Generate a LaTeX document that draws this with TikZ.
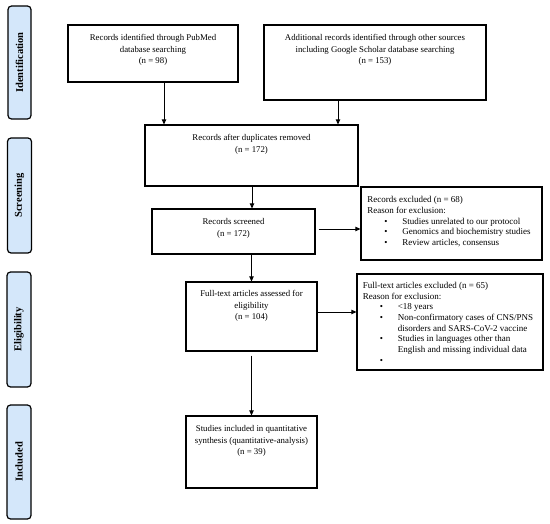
\documentclass[tikz,border=0pt]{standalone}
\usepackage{fontspec}
\setmainfont{Liberation Serif}
\usetikzlibrary{arrows.meta}
\definecolor{sideblue}{RGB}{212,231,250}
\tikzset{
  box/.style={draw=black, line width=1.2pt, inner sep=0pt},
  side/.style={draw=black, fill=sideblue, line width=1.2pt, rounded corners=3.5pt, inner sep=0pt},
  sidetext/.style={font=\fontsize{10.5}{12}\selectfont\bfseries, rotate=90, inner sep=0pt},
  ctext/.style={anchor=north, align=center, inner sep=0pt, font=\fontsize{8.8}{11.6}\selectfont},
  ltext/.style={anchor=north west, align=left, inner sep=0pt, font=\fontsize{9}{10.7}\selectfont},
  arr/.style={line width=0.9pt, -{Triangle[length=5pt,width=4.5pt]}}
}
\newcommand{\bul}{\hspace*{17pt}\makebox[18pt][l]{•}}
\begin{document}
\begin{tikzpicture}[x=1pt,y=-1pt]
\useasboundingbox (0,0) rectangle (550,524);
% side labels
\node[side, minimum width=23pt, minimum height=113pt] (idL) at (19.5,62.5) {};
\node[sidetext] at (idL.center) {Identification};
\node[side, minimum width=24pt, minimum height=115pt] (scL) at (19.5,195.5) {};
\node[sidetext] at (scL.center) {Screening};
\node[side, minimum width=24pt, minimum height=115pt] (elL) at (19,329.5) {};
\node[sidetext] at (elL.center) {Eligibility};
\node[side, minimum width=24pt, minimum height=114pt] (inL) at (19,462) {};
\node[sidetext] at (inL.center) {Included};
% boxes
\node[box, minimum width=170pt, minimum height=57pt] (pub) at (153,53.5) {};
\node[ctext] (pubT) at ([yshift=-10pt]pub.north) {Records identified through PubMed\\database searching\\(n = 98)};
\node[box, minimum width=222pt, minimum height=75pt] (add) at (375,62.5) {};
\node[ctext] (addT) at ([yshift=-10pt]add.north) {Additional records identified through other sources\\including Google Scholar database searching\\(n = 153)};
\node[box, minimum width=213pt, minimum height=61pt] (dup) at (251.5,155.5) {};
\node[ctext] (dupT) at ([yshift=-10pt]dup.north) {Records after duplicates removed\\(n = 172)};
\node[box, minimum width=163pt, minimum height=45pt] (scr) at (233.5,231.5) {};
\node[ctext] (scrT) at ([yshift=-10pt]scr.north) {Records screened\\(n = 172)};
\node[box, minimum width=181pt, minimum height=73pt] (exc1) at (451.5,223.5) {};
\node[ltext] (exc1T) at ([xshift=6.7pt,yshift=-10pt]exc1.north west) {Records excluded (n = 68)\\Reason for exclusion:\\\bul Studies unrelated to our protocol\\\bul Genomics and biochemistry studies\\\bul Review articles, consensus};
\node[box, minimum width=131pt, minimum height=69pt] (ft) at (251.5,316.5) {};
\node[ctext] (ftT) at ([yshift=-9pt]ft.north) {Full-text articles assessed for\\eligibility\\(n = 104)};
\node[box, minimum width=186pt, minimum height=96pt] (exc2) at (450,322) {};
\node[ltext] (exc2T) at ([xshift=6.3pt,yshift=-8.5pt]exc2.north west) {Full-text articles excluded (n = 65)\\Reason for exclusion:\\\bul {<}18 years\\\bul Non-confirmatory cases of CNS/PNS\\\hspace*{35pt}disorders and SARS-CoV-2 vaccine\\\bul Studies in languages other than\\\hspace*{35pt}English and missing individual data\\\bul};
\node[box, minimum width=131pt, minimum height=72pt] (inc) at (251.5,452) {};
\node[ctext] (incT) at ([yshift=-10pt]inc.north) {Studies included in quantitative\\synthesis (quantitative-analysis)\\(n = 39)};
% arrows
\draw[arr] ([xshift=11pt]pub.south) -- ([xshift=11pt]pub.south |- dup.north);
\draw[arr] ([xshift=-37pt]add.south) -- ([xshift=-37pt]add.south |- dup.north);
\draw[arr] ([xshift=0.5pt]dup.south) -- ([xshift=0.5pt]dup.south |- scr.north);
\draw[arr] (scr.south -| ft.north) -- (ft.north);
\draw[arr, shorten <=3pt] ([yshift=2.5pt]scr.east) -- ([yshift=2.5pt]scr.east -| exc1.west);
\draw[arr] ([yshift=4.5pt]ft.east) -- ([yshift=4.5pt]ft.east -| exc2.west);
\draw[arr, shorten <=4pt] (ft.south) -- (inc.north);
\end{tikzpicture}
\end{document}
